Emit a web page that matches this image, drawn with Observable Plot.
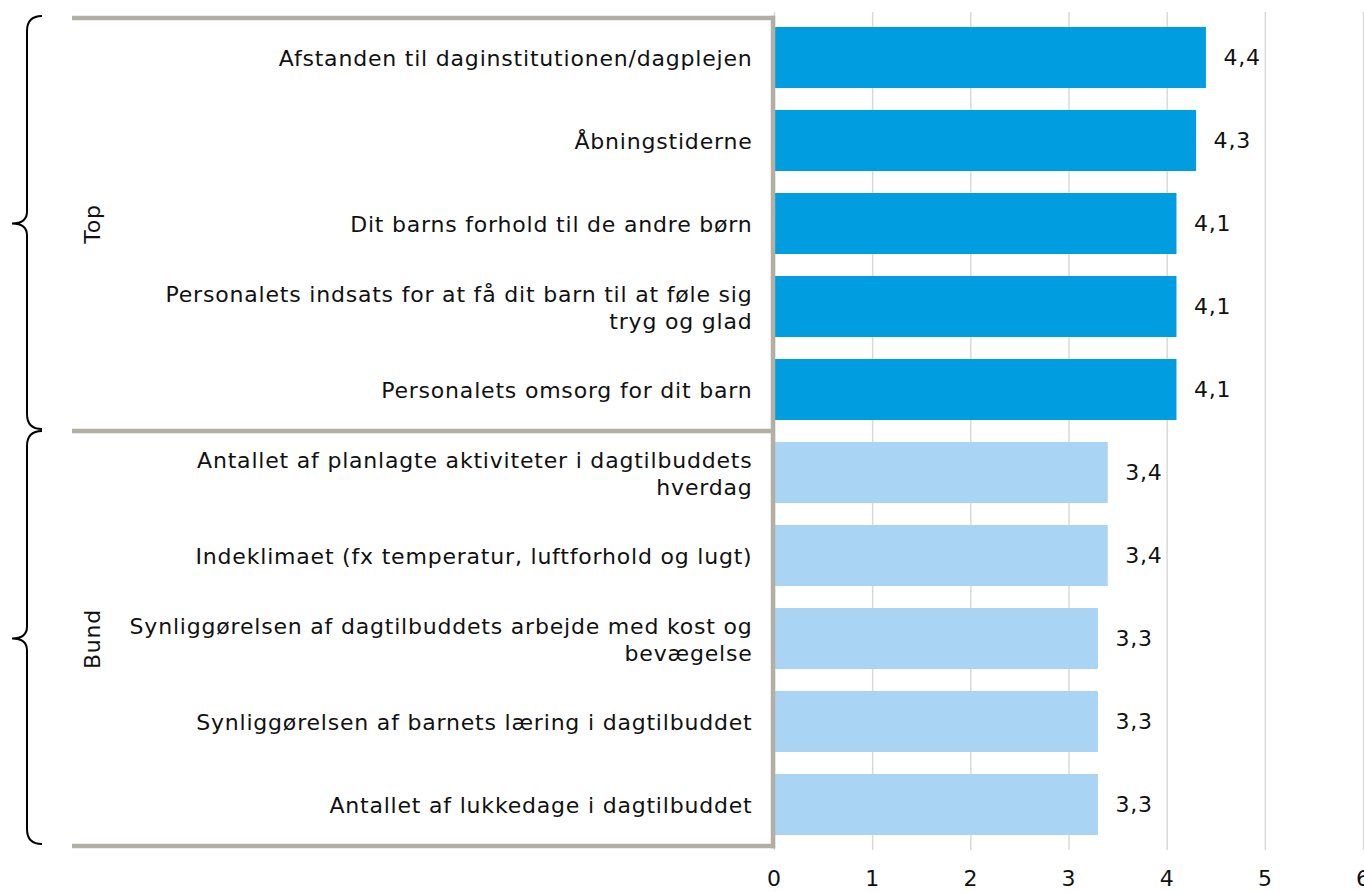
<!DOCTYPE html>
<html>
<head>
<meta charset="utf-8">
<script src="https://cdn.jsdelivr.net/npm/d3@7"></script>
<script src="https://cdn.jsdelivr.net/npm/@observablehq/plot@0.6"></script>
<style>
  html, body { margin: 0; padding: 0; background: #fff; }
  #chart svg { display: block; }
</style>
</head>
<body>
<div id="chart"></div>
<script>
const categories = [
  "Afstanden til daginstitutionen/dagplejen",
  "Åbningstiderne",
  "Dit barns forhold til de andre børn",
  "Personalets indsats for at få dit barn til at føle sig\ntryg og glad",
  "Personalets omsorg for dit barn",
  "Antallet af planlagte aktiviteter i dagtilbuddets\nhverdag",
  "Indeklimaet (fx temperatur, luftforhold og lugt)",
  "Synliggørelsen af dagtilbuddets arbejde med kost og\nbevægelse",
  "Synliggørelsen af barnets læring i dagtilbuddet",
  "Antallet af lukkedage i dagtilbuddet"
];
const values = [4.4, 4.3, 4.1, 4.1, 4.1, 3.4, 3.4, 3.3, 3.3, 3.3];
const groups = ["Top", "Top", "Top", "Top", "Top", "Bund", "Bund", "Bund", "Bund", "Bund"];
const groupNames = ["Top", "Bund"];
const groupColors = ["#009ee0", "#a9d4f4"];
const xTicks = [0, 1, 2, 3, 4, 5, 6];

const data = categories.map((c, i) => ({category: c, value: values[i], group: groups[i]}));
const groupData = groupNames.map(g => {
  const cats = data.filter(d => d.group === g).map(d => d.category);
  return {group: g, first: cats[0], last: cats[cats.length - 1], mid: cats[Math.floor(cats.length / 2)]};
});
const fmt = v => v.toFixed(1).replace(".", ",");

const plot = Plot.plot({
  width: 1364,
  height: 892,
  marginLeft: 774,
  marginRight: 1,
  marginTop: 12,
  marginBottom: 42,
  style: {fontFamily: "'DejaVu Sans', Verdana, sans-serif", fontSize: "22px", letterSpacing: "0.8px", color: "#111", background: "#fff"},
  x: {domain: [0, 6], axis: null, label: null},
  y: {domain: categories, paddingInner: 0.26, paddingOuter: 0.13, axis: null, label: null},
  color: {domain: groupNames, range: groupColors},
  marks: [
    Plot.gridX(xTicks, {stroke: "#d9d9d9", strokeOpacity: 1, strokeWidth: 1.5}),
    Plot.barX(data, {x: "value", y: "category", fill: "group"}),
    Plot.text(data, {x: "value", y: "category", text: d => fmt(d.value), textAnchor: "start", dx: 17, fill: "#111"}),
    Plot.text(data, {y: "category", text: "category", frameAnchor: "left", textAnchor: "end", dx: -22, lineHeight: 1.2, fill: "#111"}),
    Plot.text(groupData, {y: "mid", text: "group", frameAnchor: "left", textAnchor: "middle", dx: -682, rotate: -90, fill: "#111"}),
    Plot.axisX(xTicks, {tickSize: 0, tickPadding: 20, tickFormat: d => String(d), label: null, fill: "#111"})
  ]
});

document.getElementById("chart").appendChild(plot);

// Decorations: grey frame lines and curly braces, positioned with Plot's scales
const ys = plot.scale("y");
const xs = plot.scale("x");
const step = ys.step;
const bw = ys.bandwidth;
const gap = (step - bw) / 2;
const x0 = xs.apply(0);
const svg = d3.select(plot);
const deco = svg.append("g");

const spans = groupData.map(g => ({
  top: ys.apply(g.first) - gap,
  bottom: ys.apply(g.last) + bw + gap,
  mid: ys.apply(g.mid) + bw / 2
}));
const boundaries = [spans[0].top + 2, spans[0].bottom, spans[1].bottom];
const frameColor = "#b2afa4";
boundaries.forEach(b => {
  deco.append("line").attr("x1", 72).attr("x2", x0 + 1).attr("y1", b).attr("y2", b)
    .attr("stroke", frameColor).attr("stroke-width", 4.5);
});
deco.append("line").attr("x1", x0 - 1).attr("x2", x0 - 1)
  .attr("y1", boundaries[0] - 2.25).attr("y2", boundaries[2] + 2.25)
  .attr("stroke", frameColor).attr("stroke-width", 4.5);

spans.forEach(s => {
  const yt = s.top, yb = s.bottom - 2, ym = s.mid;
  const p = `M42,${yt} C32,${yt} 27,${yt + 5} 27,${yt + 15}
    L27,${ym - 12} C27,${ym - 4} 22,${ym} 12,${ym}
    C22,${ym} 27,${ym + 4} 27,${ym + 12}
    L27,${yb - 15} C27,${yb - 5} 32,${yb} 42,${yb}`;
  deco.append("path").attr("d", p).attr("fill", "none").attr("stroke", "#000").attr("stroke-width", 2);
});
</script>
</body>
</html>
